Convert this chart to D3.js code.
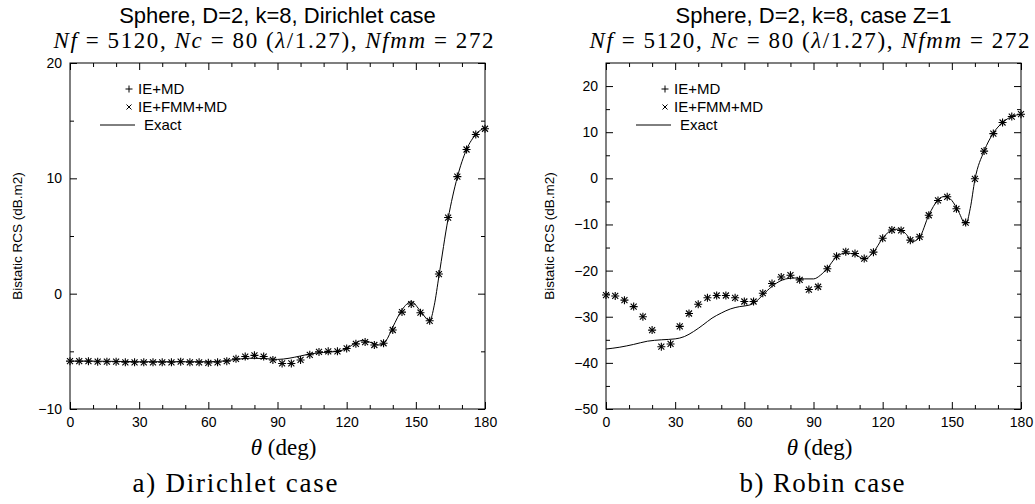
<!DOCTYPE html>
<html>
<head>
<meta charset="utf-8">
<script src="https://cdn.jsdelivr.net/npm/d3@7"></script>
<style>
  body { margin: 0; background: #fff; }
  text { fill: #000; }
</style>
</head>
<body>
<div id="chart"></div>
<script>
// theta samples of the numerical solutions (deg)
var thetaPts = [0, 4, 8, 12, 16, 20, 24, 28, 32, 36, 40, 44, 48, 52, 56, 60, 64, 68, 72, 76, 80, 84, 88,
  92, 96, 100, 104, 108, 112, 116, 120, 124, 128, 132, 136, 140, 144, 148, 152, 156, 160, 164, 168, 172, 176, 180];

// a) Dirichlet case
var dirIeMd = [-5.85, -5.85, -5.85, -5.9, -5.9, -5.9, -5.95, -5.95, -5.95, -5.95, -5.95, -5.95, -5.9, -5.95, -5.95,
  -6.0, -5.95, -5.85, -5.65, -5.45, -5.35, -5.45, -5.75, -6.05, -6.05, -5.75, -5.3, -5.05, -5.0, -5.0, -4.75,
  -4.35, -4.2, -4.45, -4.3, -3.15, -1.6, -0.9, -1.65, -2.35, 1.7, 6.6, 10.15, 12.5, 13.8, 14.3];
var dirIeFmmMd = [-5.85, -5.85, -5.85, -5.9, -5.9, -5.9, -5.95, -5.95, -5.95, -5.95, -5.95, -5.95, -5.9, -5.95, -5.95,
  -6.0, -5.95, -5.85, -5.65, -5.45, -5.35, -5.45, -5.75, -6.05, -6.05, -5.75, -5.3, -5.05, -5.0, -5.0, -4.75,
  -4.35, -4.2, -4.45, -4.3, -3.15, -1.6, -0.9, -1.65, -2.35, 1.7, 6.6, 10.15, 12.5, 13.8, 14.3];
var dirExactTheta = [0, 10, 20, 30, 40, 50, 60, 66, 72, 78, 84, 90, 95, 100, 105, 110, 116, 120, 124, 127, 130,
  134, 137, 140, 144, 148, 152, 156, 158, 160, 164, 168, 172, 176, 180];
var dirExact = [-5.85, -5.85, -5.87, -5.9, -5.9, -5.9, -5.9, -5.85, -5.7, -5.6, -5.62, -5.7, -5.6, -5.4, -5.2,
  -5.1, -5.0, -4.75, -4.25, -4.05, -4.2, -4.45, -4.1, -2.9, -1.4, -0.7, -1.5, -2.35, -1.0, 1.5, 6.5, 10.1,
  12.5, 13.8, 14.4];

// b) Robin case (Z=1)
var robIeMd = [-25.3, -25.5, -26.4, -27.8, -30.0, -32.9, -36.5, -35.9, -32.1, -29.3, -27.3, -25.9, -25.4, -25.4,
  -25.9, -26.7, -26.7, -24.9, -22.8, -21.4, -21.0, -22.0, -24.1, -23.5, -19.6, -16.9, -15.9, -16.3, -17.4, -16.0,
  -13.0, -11.2, -11.3, -13.4, -12.7, -8.0, -4.8, -4.0, -6.6, -9.6, -0.1, 5.9, 9.7, 12.1, 13.4, 13.9];
var robIeFmmMd = [-25.3, -25.5, -26.4, -27.8, -30.0, -32.9, -36.5, -35.9, -32.1, -29.3, -27.3, -25.9, -25.4, -25.4,
  -25.9, -26.7, -26.7, -24.9, -22.8, -21.4, -21.0, -22.0, -24.1, -23.5, -19.6, -16.9, -15.9, -16.3, -17.4, -16.0,
  -13.0, -11.2, -11.3, -13.4, -12.7, -8.0, -4.8, -4.0, -6.6, -9.6, -0.1, 5.9, 9.7, 12.1, 13.4, 13.9];
var robExactTheta = [0, 6, 12, 18, 24, 30, 34, 38, 42, 46, 50, 54, 58, 62, 64, 66, 70, 74, 78, 82, 86, 90, 93,
  96, 100, 104, 108, 112, 116, 120, 124, 127, 130, 133, 136, 140, 144, 147, 150, 153, 156, 158, 160, 164, 168,
  172, 176, 180];
var robExact = [-37.0, -36.6, -36.0, -35.3, -35.0, -34.8, -34.3, -33.2, -31.8, -30.3, -29.2, -28.3, -27.8, -27.5,
  -27.1, -26.3, -24.3, -22.7, -21.8, -21.6, -21.8, -21.8, -21.0, -19.5, -17.0, -16.2, -16.5, -17.5, -16.0, -13.0,
  -11.2, -11.0, -12.0, -13.7, -12.8, -8.0, -4.7, -3.9, -4.8, -7.3, -10.0, -6.5, -0.3, 5.9, 9.8, 12.1, 13.4, 13.9];

// ticks
var xTicks = [0, 30, 60, 90, 120, 150, 180];
var xMinorTicks = [10, 20, 40, 50, 70, 80, 100, 110, 130, 140, 160, 170];
var yTicksDir = [-10, 0, 10, 20];
var yMinorDir = [-5, 5, 15];
var yTicksRob = [-50, -40, -30, -20, -10, 0, 10, 20];
var yMinorRob = [-45, -35, -25, -15, -5, 5, 15, 25];

var legendLabels = ["IE+MD", "IE+FMM+MD", "Exact"];

var W = 1035, H = 504;
var sans = "'Liberation Sans', Arial, Helvetica, sans-serif";
var serif = "'Liberation Serif', 'Times New Roman', serif";

var svg = d3.select("#chart")
  .append("svg")
  .attr("width", W)
  .attr("height", H)
  .style("display", "block");

svg.append("rect").attr("width", W).attr("height", H).attr("fill", "#fff");

function plusPath(s) { return "M" + (-s) + ",0H" + s + "M0," + (-s) + "V" + s; }
function crossPath(s) { return "M" + (-s) + "," + (-s) + "L" + s + "," + s + "M" + (-s) + "," + s + "L" + s + "," + (-s); }

function drawPanel(p) {
  var x = d3.scaleLinear().domain([0, 180]).range([p.left, p.right]);
  var y = d3.scaleLinear().domain(p.yDomain).range([p.bottom, p.top]);
  var h = p.bottom - p.top, w = p.right - p.left;

  var g = svg.append("g");

  // major / minor ticks, inward on all four sides
  function tickAxis(axis, tr, size) {
    var a = g.append("g")
      .attr("transform", tr)
      .call(axis.tickSizeInner(-size).tickSizeOuter(0));
    a.select(".domain").remove();
    a.selectAll("line").attr("stroke", "#000").attr("stroke-width", 1);
    return a;
  }

  var bx = tickAxis(d3.axisBottom(x).tickValues(xTicks).tickPadding(8), "translate(0," + p.bottom + ")", 7);
  bx.selectAll("text").attr("font-family", sans).attr("font-size", 14);
  tickAxis(d3.axisBottom(x).tickValues(xMinorTicks).tickFormat(""), "translate(0," + p.bottom + ")", 4);
  tickAxis(d3.axisTop(x).tickValues(xTicks).tickFormat(""), "translate(0," + p.top + ")", 7);
  tickAxis(d3.axisTop(x).tickValues(xMinorTicks).tickFormat(""), "translate(0," + p.top + ")", 4);

  var ly = tickAxis(d3.axisLeft(y).tickValues(p.yTicks).tickPadding(8), "translate(" + p.left + ",0)", 7);
  ly.selectAll("text").attr("font-family", sans).attr("font-size", 14);
  tickAxis(d3.axisLeft(y).tickValues(p.yMinor).tickFormat(""), "translate(" + p.left + ",0)", 4);
  tickAxis(d3.axisRight(y).tickValues(p.yTicks).tickFormat(""), "translate(" + p.right + ",0)", 7);
  tickAxis(d3.axisRight(y).tickValues(p.yMinor).tickFormat(""), "translate(" + p.right + ",0)", 4);

  // frame
  g.append("rect")
    .attr("x", p.left).attr("y", p.top)
    .attr("width", w).attr("height", h)
    .attr("fill", "none").attr("stroke", "#000").attr("stroke-width", 1);

  // exact solution
  var exact = p.exactTheta.map(function (t, i) { return { t: t, v: p.exact[i] }; });
  g.append("path")
    .datum(exact)
    .attr("fill", "none")
    .attr("stroke", "#000")
    .attr("stroke-width", 1)
    .attr("d", d3.line()
      .curve(d3.curveMonotoneX)
      .x(function (d) { return x(d.t); })
      .y(function (d) { return y(d.v); }));

  // IE+MD  (+)
  g.append("g").selectAll("path")
    .data(thetaPts)
    .join("path")
    .attr("transform", function (t, i) { return "translate(" + x(t) + "," + y(p.ieMd[i]) + ")"; })
    .attr("d", plusPath(4))
    .attr("stroke", "#000").attr("stroke-width", 1.1).attr("fill", "none");

  // IE+FMM+MD  (x)
  g.append("g").selectAll("path")
    .data(thetaPts)
    .join("path")
    .attr("transform", function (t, i) { return "translate(" + x(t) + "," + y(p.ieFmmMd[i]) + ")"; })
    .attr("d", crossPath(3))
    .attr("stroke", "#000").attr("stroke-width", 1.1).attr("fill", "none");

  // legend
  var lx = p.left + 59, ly0 = p.top + 26, dy = 18;
  g.append("path").attr("transform", "translate(" + lx + "," + ly0 + ")")
    .attr("d", plusPath(3.5)).attr("stroke", "#000").attr("fill", "none");
  g.append("path").attr("transform", "translate(" + lx + "," + (ly0 + dy) + ")")
    .attr("d", crossPath(2.5)).attr("stroke", "#000").attr("fill", "none");
  g.append("line")
    .attr("x1", p.left + 30).attr("x2", p.left + 65)
    .attr("y1", ly0 + 2 * dy).attr("y2", ly0 + 2 * dy)
    .attr("stroke", "#000");
  g.selectAll(".leg")
    .data(legendLabels)
    .join("text")
    .attr("x", function (d, i) { return i < 2 ? p.left + 68 : p.left + 74; })
    .attr("y", function (d, i) { return ly0 + i * dy; })
    .attr("dy", "0.35em")
    .attr("font-family", sans).attr("font-size", 15)
    .text(function (d) { return d; });

  // y label
  g.append("text")
    .attr("transform", "translate(" + p.ylabelX + "," + (p.top + h / 2) + ") rotate(-90)")
    .attr("text-anchor", "middle")
    .attr("font-family", sans).attr("font-size", 13.5)
    .text("Bistatic RCS (dB.m2)");

  // titles
  var cx = p.left + w / 2;
  g.append("text")
    .attr("x", cx).attr("y", 23)
    .attr("text-anchor", "middle")
    .attr("font-family", sans).attr("font-size", 22)
    .text(p.title);

  var sub = g.append("text")
    .attr("x", cx - 4).attr("y", 48)
    .attr("text-anchor", "middle")
    .attr("font-family", serif).attr("font-size", 23)
    .attr("textLength", 440).attr("lengthAdjust", "spacing");
  sub.append("tspan").attr("font-style", "italic").text("Nf");
  sub.append("tspan").text(" = 5120, ");
  sub.append("tspan").attr("font-style", "italic").text("Nc");
  sub.append("tspan").text(" = 80 (");
  sub.append("tspan").attr("font-style", "italic").text("λ");
  sub.append("tspan").text("/1.27), ");
  sub.append("tspan").attr("font-style", "italic").text("Nfmm");
  sub.append("tspan").text(" = 272");

  // x label
  var xl = g.append("text")
    .attr("x", cx + 6).attr("y", 455)
    .attr("text-anchor", "middle")
    .attr("font-family", serif).attr("font-size", 23);
  xl.append("tspan").attr("font-style", "italic").text("θ");
  xl.append("tspan").text(" (deg)");

  // caption
  g.append("text")
    .attr("x", p.captionX).attr("y", 492)
    .attr("text-anchor", "middle")
    .attr("font-family", serif).attr("font-size", 27)
    .attr("textLength", p.captionW).attr("lengthAdjust", "spacing")
    .text(p.caption);
}

drawPanel({
  left: 70, right: 485, top: 63, bottom: 409,
  yDomain: [-10, 20], yTicks: yTicksDir, yMinor: yMinorDir,
  ieMd: dirIeMd, ieFmmMd: dirIeFmmMd, exactTheta: dirExactTheta, exact: dirExact,
  title: "Sphere, D=2, k=8, Dirichlet case",
  ylabelX: 22, caption: "a) Dirichlet case", captionX: 235, captionW: 205
});

drawPanel({
  left: 606, right: 1021, top: 63, bottom: 409,
  yDomain: [-50, 25], yTicks: yTicksRob, yMinor: yMinorRob,
  ieMd: robIeMd, ieFmmMd: robIeFmmMd, exactTheta: robExactTheta, exact: robExact,
  title: "Sphere, D=2, k=8, case Z=1",
  ylabelX: 554, caption: "b) Robin case", captionX: 822, captionW: 165
});
</script>
</body>
</html>
